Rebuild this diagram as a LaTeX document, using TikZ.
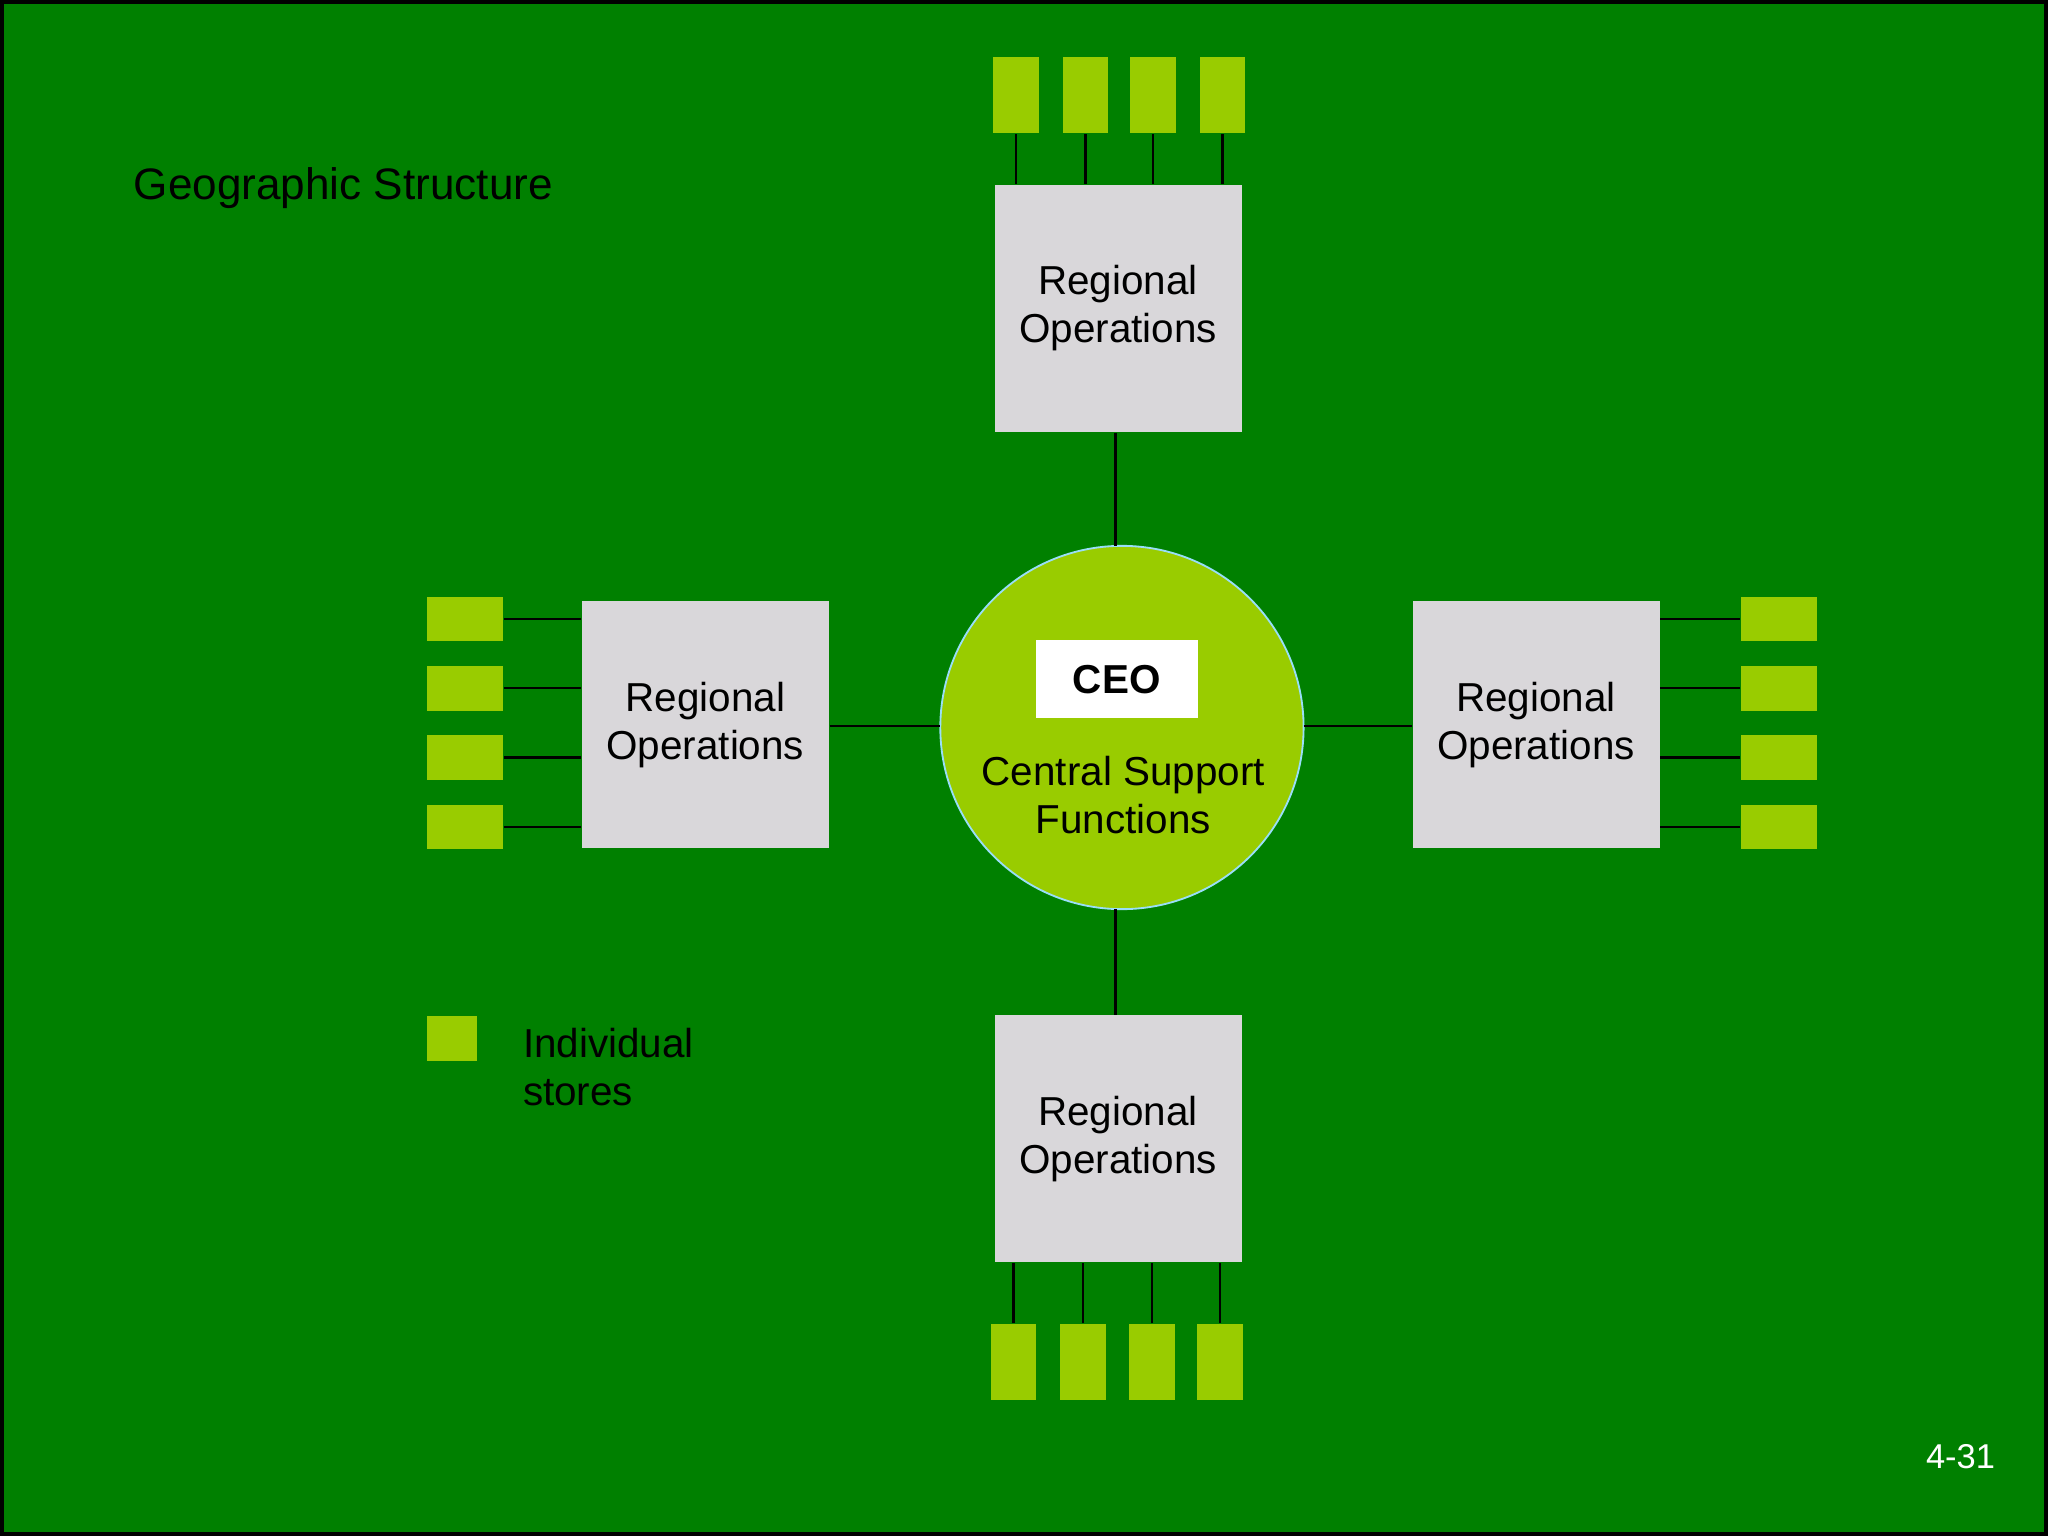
\documentclass[tikz,border=0pt]{standalone}
\usepackage{fontspec}
\setmainfont{Liberation Sans}
\definecolor{bg}{RGB}{0,128,0}
\definecolor{lime}{RGB}{153,204,0}
\definecolor{box}{RGB}{217,215,218}
\begin{document}
\begin{tikzpicture}[x=0.01cm,y=-0.01cm,
  reg/.style={fill=box,draw=none,minimum width=1.89cm,minimum height=1.89cm,inner sep=0,align=center,font=\fontsize{8.8}{10.4}\selectfont},
  sv/.style={fill=lime,draw=none,minimum width=0.35cm,minimum height=0.58cm,inner sep=0},
  sh/.style={fill=lime,draw=none,minimum width=0.58cm,minimum height=0.34cm,inner sep=0},
  ln/.style={draw=black,line width=0.5pt}]
\useasboundingbox (0,0) rectangle (1568,1176);
\fill[bg] (0,0) rectangle (1568,1176);
\draw[black,line width=1pt] (1,1) rectangle (1567,1175);
\node[anchor=west,font=\fontsize{9.6}{11}\selectfont] (title) at (90,144) {Geographic Structure};
% center
\node[circle,fill=lime,draw=cyan!40,line width=0.4pt,minimum size=2.78cm,inner sep=0] (c) at (859,557) {};
\node[fill=white,minimum width=1.24cm,minimum height=0.6cm,inner sep=0,font=\fontsize{8.8}{10}\selectfont\bfseries] (ceo) at (855,520) {CEO};
\node[align=center,font=\fontsize{8.8}{10.4}\selectfont] (csf) at (860,609) {Central Support\\Functions};
% boxes
\node[reg] (t) at (856,236) {Regional\\Operations};
\node[reg] (l) at (540,555) {Regional\\Operations};
\node[reg] (r) at (1176,555) {Regional\\Operations};
\node[reg] (b) at (856,872) {Regional\\Operations};
\draw[ln] (t.south -| 854,0) -- (854,418);
\draw[ln] (854,696) -- (b.north -| 854,0);
\draw[ln] (l.east |- 0,556) -- (720,556);
\draw[ln] (998,556) -- (r.west |- 0,556);
% top stores
\foreach \x/\n in {778/1,831/2,883/3,936/4}{
  \node[sv] (ts\n) at (\x,73) {};
  \draw[ln] (ts\n.south) -- (t.north -| ts\n.south);
}
\foreach \x/\n in {776/1,829/2,882/3,934/4}{
  \node[sv] (bs\n) at (\x,1043) {};
  \draw[ln] (bs\n.north) -- (b.south -| bs\n.north);
}
\foreach \y/\n in {474/1,527/2,580/3,633/4}{
  \node[sh] (ls\n) at (356,\y) {};
  \draw[ln] (ls\n.east) -- (l.west |- ls\n.east);
  \node[sh] (rs\n) at (1362,\y) {};
  \draw[ln] (rs\n.west) -- (r.east |- rs\n.west);
}
% legend
\node[fill=lime,minimum width=0.38cm,minimum height=0.34cm,inner sep=0] (leg) at (346,795) {};
\node[anchor=north west,align=left,font=\fontsize{8.8}{10.4}\selectfont] (legt) at (388,775) {Individual\\stores};
\node[white,font=\fontsize{7.5}{9}\selectfont] (pg) at (1501,1115) {4-31};
\end{tikzpicture}
\end{document}
